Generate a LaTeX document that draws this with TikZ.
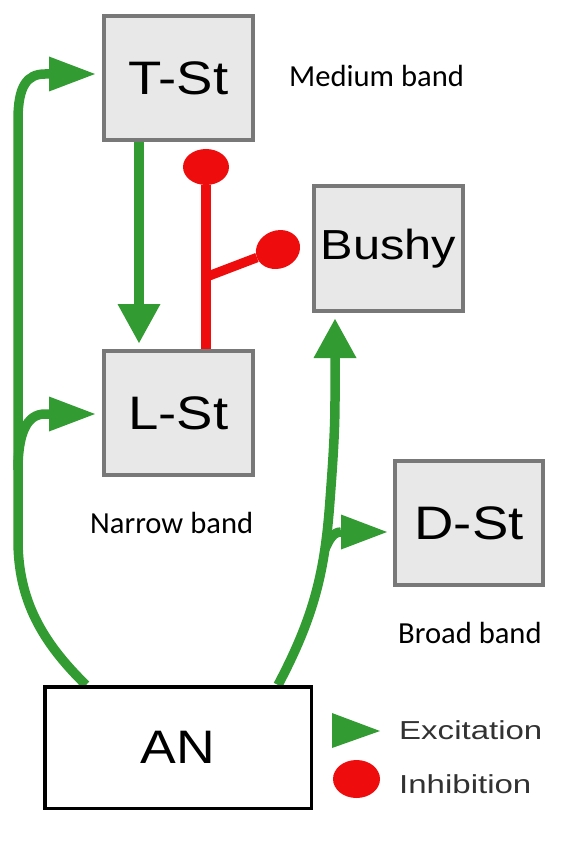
\documentclass[tikz,border=0pt]{standalone}
\usepackage{fontspec}
\setmainfont{Liberation Sans}
\newfontfamily\bandfont{Carlito}
\usepackage{graphicx}
\usetikzlibrary{arrows.meta,calc,backgrounds}
\definecolor{exgreen}{RGB}{50,155,50}
\definecolor{inred}{RGB}{238,12,12}
\definecolor{boxfill}{RGB}{232,232,232}
\definecolor{boxline}{RGB}{120,120,120}
\definecolor{legtext}{RGB}{50,50,50}
\begin{document}
\begin{tikzpicture}[x=1pt,y=-1pt,
 cell/.style={draw=boxline, fill=boxfill, line width=4pt, minimum width=149pt, minimum height=124pt, inner sep=0pt, font=\fontsize{47}{50}\selectfont},
 anbox/.style={draw=black, fill=white, line width=3.5pt, minimum width=266.5pt, minimum height=121.5pt, inner sep=0pt, font=\fontsize{47}{50}\selectfont},
 band/.style={font=\bandfont\fontsize{30.6}{34}\selectfont, anchor=base west, inner sep=0pt},
 legtxt/.style={font=\fontsize{26}{30}\selectfont, text=legtext, anchor=base west, inner sep=0pt},
 exc/.style={draw=exgreen, line width=9.5pt},
 hx/.style={-{Triangle[length=46pt,width=35pt,line width=0pt]}},
 vx/.style={-{Triangle[length=39pt,width=43pt,line width=0pt]}},
 inh/.style={draw=inred, line width=9.5pt},
]
\useasboundingbox (0,0) rectangle (572,845);

% boxes
\node[cell] (tst) at (178.5,78) {\scalebox{1.16}[1]{T-St}};
\node[cell] (lst) at (178.5,413) {\scalebox{1.16}[1]{L-St}};
\node[cell, minimum height=125pt, font=\fontsize{42}{46}\selectfont] (bushy) at (388.5,248.5) {\scalebox{1.16}[1]{Bushy}};
\node[cell, minimum width=148pt] (dst) at (469,523) {\scalebox{1.16}[1]{D-St}};
\node[anbox] (an) at (178,747.5) {\scalebox{1.14}[1]{AN}};

% band labels
\node[band] (medium) at (289,87) {Medium band};
\node[band] (narrow) at (90,533) {Narrow band};
\node[band] (broad) at (398,643) {Broad band};

% connectors
\begin{scope}[on background layer]
\coordinate (lsplit) at (18,470);
\coordinate (dsplit) at (325,549);
\coordinate (jct) at (206,277);
\draw[exc,hx] ($(an.north west)+(43,0)$) .. controls (42,642) and (18,600) .. (18,540)
   -- (18,120) .. controls (18,86) and (27,74) .. (45,74) -- ($(tst.west)+(-7,-4)$);
\draw[exc,hx] (lsplit) .. controls (18,435) and (26,414) .. (45,414) -- ($(lst.west)+(-7,1)$);
\draw[exc,vx] ($(tst.south)+(-39.5,0)$) -- ($(lst.north)+(-39.5,-6)$);
\draw[exc,vx] ($(an.north west)+(235,0)$) .. controls (315,615) and (325,570) .. (330,500)
   .. controls (333,460) and (335,430) .. (335,400) -- ($(bushy.south)+(-53.5,6)$);
\draw[exc,hx] (dsplit) .. controls (329,540) and (333,532) .. (341,532) -- ($(dst.west)+(-6,9)$);
\draw[inh,-{Ellipse[length=36pt,width=46pt,line width=0pt]}] ($(lst.north)+(27.5,0)$) -- ($(tst.south)+(27.5,7)$);
\draw[inh,-{Ellipse[length=45pt,width=38pt,line width=0pt]}] (jct) -- ($(bushy.west)+(-13,-7)$);
\end{scope}

% legend
\fill[exgreen] (332,713) -- (380,731) -- (332,748) -- cycle;
\fill[inred] (356.5,779) ellipse [x radius=23.5pt, y radius=19pt];
\node[legtxt] (exlab) at (399,739) {\scalebox{1.27}[1]{Excitation}};
\node[legtxt] (inlab) at (399,793) {\scalebox{1.27}[1]{Inhibition}};
\end{tikzpicture}
\end{document}
